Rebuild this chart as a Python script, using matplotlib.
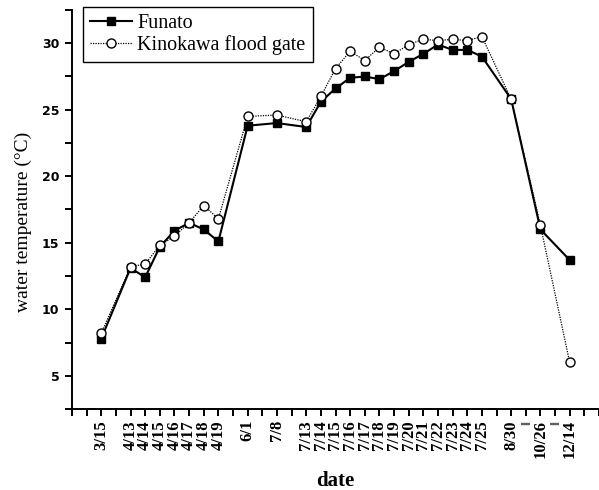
import matplotlib
matplotlib.use('Agg')
import matplotlib.pyplot as plt
from matplotlib.ticker import MultipleLocator

# sampling dates and their slot on the category axis (gaps kept as in the original)
dates = ['3/15', '4/13', '4/14', '4/15', '4/16', '4/17', '4/18', '4/19',
         '6/1', '7/8', '7/13', '7/14', '7/15', '7/16', '7/17', '7/18',
         '7/19', '7/20', '7/21', '7/22', '7/23', '7/24', '7/25',
         '8/30', '10/26', '12/14']
slots = [2, 4, 5, 6, 7, 8, 9, 10, 12, 14, 16, 17, 18, 19, 20, 21,
         22, 23, 24, 25, 26, 27, 28, 30, 32, 34]

funato = [7.8, 13.1, 12.4, 14.7, 15.9, 16.5, 16.0, 15.1,
          23.8, 24.0, 23.7, 25.6, 26.6, 27.4, 27.5, 27.3,
          27.9, 28.6, 29.2, 29.9, 29.5, 29.5, 29.0,
          25.8, 16.0, 13.7]
kinokawa = [8.2, 13.2, 13.4, 14.8, 15.5, 16.5, 17.8, 16.8,
            24.5, 24.6, 24.1, 26.0, 28.1, 29.4, 28.7, 29.7,
            29.2, 29.9, 30.3, 30.2, 30.3, 30.2, 30.5,
            25.8, 16.3, 6.0]

# break marks between the late dates
break_slots = [31, 33]
break_label = '||'

serif = 'Liberation Serif'

fig = plt.figure(figsize=(5.99, 4.90), dpi=100)
ax = fig.add_axes([72/599, 1 - 409/490, 1 - 72/599, (409 - 10)/490])

ax.plot(slots, funato, color='black', linewidth=1.5, marker='s',
        markersize=5.5, markerfacecolor='black', markeredgecolor='black',
        label='Funato', zorder=3)
ax.plot(slots, kinokawa, color='black', linewidth=0.9, linestyle=(0, (1, 1)),
        marker='o', markersize=6.5, markerfacecolor='white',
        markeredgecolor='black', markeredgewidth=1.0,
        label='Kinokawa flood gate', zorder=4)

ax.set_xlim(0, 36)
ax.set_ylim(2.5, 32.5)

for side in ['top', 'right']:
    ax.spines[side].set_visible(False)
for side in ['left', 'bottom']:
    ax.spines[side].set_linewidth(1.4)

# x axis: a tick at every slot, labels only where there is a date
ax.set_xticks(range(0, 37))
tick_text = [''] * 37
for s, d in zip(slots, dates):
    tick_text[s] = d
for s in break_slots:
    tick_text[s] = break_label
ax.set_xticklabels(tick_text, rotation=90, fontfamily=serif,
                   fontweight='bold', fontsize=12)
for s in break_slots:
    ax.get_xticklabels()[s].set_fontsize(8)
ax.tick_params(axis='x', direction='out', length=5, width=1.4, pad=3)

ax.yaxis.set_major_locator(MultipleLocator(5))
ax.yaxis.set_minor_locator(MultipleLocator(2.5))
ax.set_yticks([5, 10, 15, 20, 25, 30])
ax.set_yticklabels(['5', '10', '15', '20', '25', '30'],
                   fontfamily='DejaVu Sans', fontweight='bold', fontsize=9)
ax.tick_params(axis='y', which='both', direction='out', length=5,
               width=1.4, pad=4)

ax.set_xlabel('date', fontfamily=serif, fontweight='bold', fontsize=15)
ax.xaxis.set_label_coords(0.5, -0.155)
ax.set_ylabel('water temperature (°C)', fontfamily=serif, fontsize=14)
ax.yaxis.set_label_coords(-0.075, 0.47)

leg = ax.legend(loc='upper left', bbox_to_anchor=(0.021, 1.008),
                borderaxespad=0, prop={'family': serif, 'size': 14.5},
                frameon=True, fancybox=False, framealpha=1,
                edgecolor='black', handlelength=2.1, handletextpad=0.25,
                labelspacing=0.1, borderpad=0.35)
leg.get_frame().set_linewidth(1.0)

fig.savefig('out.png', dpi=100)
